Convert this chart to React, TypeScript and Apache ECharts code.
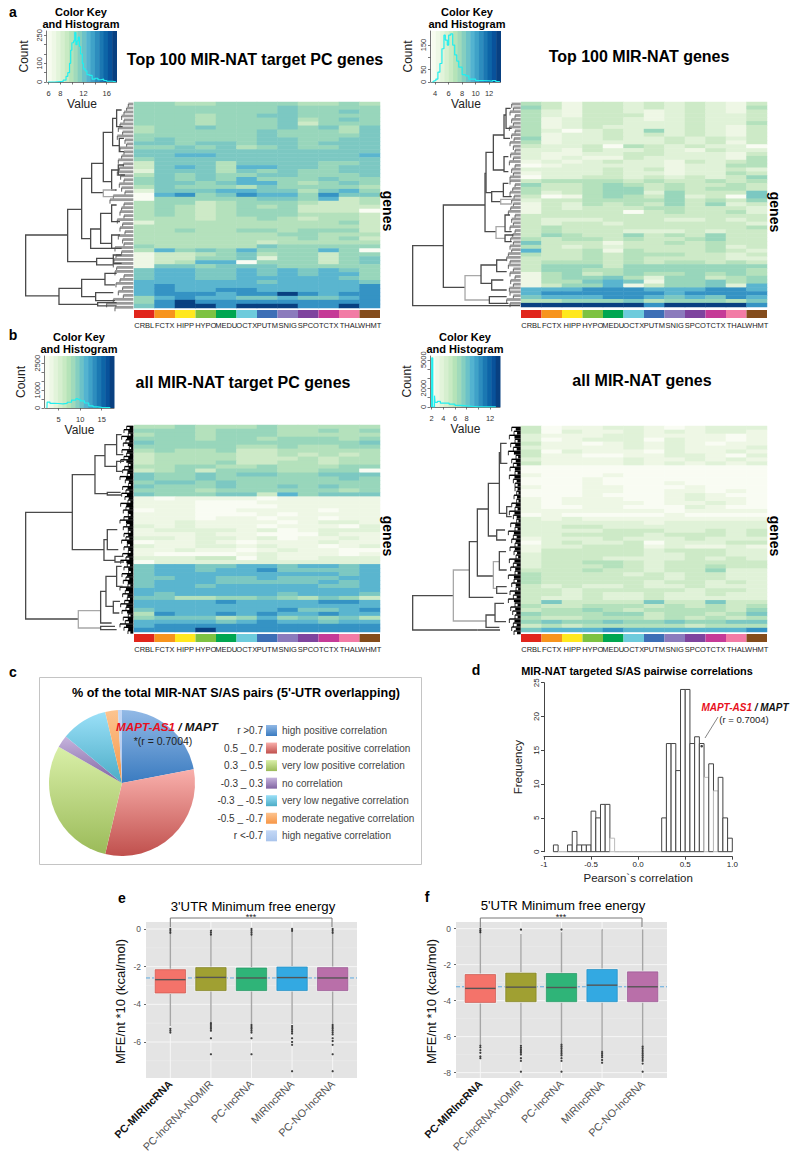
import React, { useEffect, useRef } from "react";
import * as echarts from "echarts";

const FONT = "Liberation Sans";
const tissues = ["CRBL","FCTX","HIPP","HYPO","MEDU","OCTX","PUTM","SNIG","SPCO","TCTX","THAL","WHMT"];
const tissueColors = ["#e1261c","#f7941d","#ffe81f","#7dc242","#00a651","#6dcbdc","#3d6fb6","#8b7bbd","#7e449e","#c53a97","#f27ba5","#844c1c"];
const heatColors = ["#f9fcf3","#eef7e5","#e0f2d8","#cdeac7","#b4e1bc","#98d6bb","#7cc8c2","#5ab5cf","#3593c4","#084081"];
const keyColors = ["#f7fcf0","#eef8e6","#e2f4da","#d6efcf","#c8eac3","#b5e3b8","#a0dabb","#85cfc0","#6cc2c8","#53b3d0","#3fa2c8","#2d8dbe","#1b78b2","#0d65a7","#08529b","#084081"];

const heatA = ["554455554454","555555565555","555555565565","555455665555","555455564565","555455563555","455655565646","455555655546","555555655556","565555665566","665665665666","556564565566","666666666666","667766666667","566666666666","366646666556","367647766566","266646565566","465655665556","565657555655","566567754565","465554655554","266677664675","078568775866","055555665734","455345554334","454345453333","454345553330","454345554443","444344543443","244444444453","444444444443","445445545553","444444455444","444444445453","444444344444","544444655555","475657555750","133456455355","133556255356","134770555356","166566655555","677667676765","677667676775","677667777765","777777677776","787777777778","787788777778","788878898788","578776676678","589888888888","689989998898"];
const heatB = ["431332323213","531332323214","421332123213","421333123223","412332123223","412332223224","412322223213","420232523213","412232323213","512232232323","412222232313","322304323220","221322321322","211223322213","212113222214","121232213234","012222212244","222232312232","122232212243","022332323235","344443433434","533454343343","433455343443","423455253336","301454352306","233444453435","132434353523","132333443332","133330343342","333333333333","322233322323","323323333332","343333333334","343332223233","354335343533","434434334533","633313343433","432323333423","733414333432","433434443323","333434333322","344434344343","355535555555","355445555554","145345445454","145564255345","144676155645","135571355627","777888777887","788888878888","677788767687","445556455546","999999899998"];
const heatC = ["445444544444","555455544545","455455544444","555455455545","655555555556","555554454455","454453344444","344443343434","344443334344","344453344344","445544544455","345355544550","655656655666","655655555565","566565555555","655565565655","555455555545","655566375666","101111011111","111000111111","111000011111","011001111011","111000101111","111011011011","112111101221","212111011102","122221201222","111211000211","221221201121","011210111211","211221211012","112110121100","100001211101","222330211222","022222222222","677667767767","677677866667","677777777767","667766766677","677766666767","677677777667","777777777777","767777767776","664455654653","777787777887","777777777777","677777786678","487787877877","566645756564","777767877677","788888888888","888988888888"];
const heatD = ["301122101222","302112121221","211122111101","201222021101","311012121011","211112121112","302111021121","311001122102","211112112121","311112121212","000000000000","000000000000","100010000000","000100000000","000100010000","100110001000","000110011010","000100012100","101110012110","101111011210","100110002100","111111101111","010000010000","212111111111","222222122222","223322222222","222233322323","223333233323","122232223222","023223022233","122333121121","133333233322","233333223322","233322223232","233443233333","233343233433","333433233522","433332323322","433333323322","433333233232","323223223222","332333332332","332322322322","322322322222","363333633633","433444343434","344543444435","544455344346","433444343434","565565565566","343444443444","677787777778"];

const leafA1 = [385,380,372,365,372,360,355,368,352,375,380,360,372,365,355,370,358,352,362,372,358,365,375,340,330,372,365,360,372,352,368,360,375,355,368,372,345,365,348,342,340,350,345,372,360,348,368,355,370,340,320,345];
const leafA2 = [335,340,330,345,335,340,328,345,335,342,330,340,345,332,340,328,345,335,340,330,330,345,338,330,342,335,340,332,325,345,335,340,330,345,338,332,340,330,335,325,320,330,325,340,330,345,332,340,328,330,340,320,330];
const leafB1 = [380,372,385,365,378,370,388,366,380,372,362,385,374,368,382,360,376,386,368,378,365,375,384,362,378,370,385,372,360,380,370,385,372,378,365,382,372,385,368,378,362,382,372,386,366,378,370,384,360,376,368,382,374,362,378,366,385,370,376,360,372,384];
const leafB2 = [335,342,328,345,332,340,325,348,335,340,330,345,328,340,345,345,350,342,350,335,345,328,340,350,332,345,325,340,335,345,330,342,348,328,340,332,345,325,342,335,348,330,340,325,345,332,338,345,328,340,335,342];

// dendrogram merges: [mergeX, topY, bottomY, topChildX, bottomChildX, light]
const dendroA1 = [[77,705,888,203,177,0],[203,628,785,245,290,0],[245,535,716,275,272,0],[275,490,578,310,310,0],[310,397,545,338,335,0],[338,355,437,350,358,0],[350,330,380,365,368,0],[358,415,455,372,372,0],[335,510,570,355,350,0],[355,495,525,372,375,0],[272,687,745,302,345,0],[302,640,730,335,335,0],[335,615,665,350,360,0],[335,705,745,360,365,0],[290,775,795,340,340,0],[340,765,790,365,365,0],[177,865,913,245,293,0],[245,838,890,315,287,0],[315,820,855,350,345,0],[287,878,902,340,345,0],[293,908,918,350,350,0],[310,570,590,345,340,1]];
const dendroA2 = [[38,737,917,130,360,0],[130,615,862,255,195,0],[255,520,695,258,288,0],[258,457,578,280,275,0],[280,405,510,312,312,0],[312,345,415,318,330,0],[318,325,385,332,335,0],[312,470,515,325,325,0],[275,575,605,310,302,0],[310,550,590,325,335,0],[302,598,612,335,335,1],[288,680,715,315,315,1],[315,645,695,330,335,0],[315,705,725,340,335,0],[195,827,900,243,268,1],[243,795,850,290,275,0],[290,780,815,320,320,0],[275,840,870,310,320,0],[268,890,910,320,325,0]];
const dendroB1 = [[77,548,868,217,235,0],[217,435,660,285,312,0],[285,378,492,315,322,0],[315,345,410,350,350,0],[350,315,375,365,370,0],[350,395,425,372,368,0],[322,488,496,362,365,0],[312,630,692,322,345,0],[322,600,660,352,355,0],[345,680,697,370,372,0],[235,843,895,302,302,1],[302,785,880,318,335,0],[318,740,830,350,340,0],[350,710,770,365,368,0],[340,815,850,360,358,0],[302,890,900,345,350,0]];
const dendroB2 = [[38,797,900,160,232,0],[160,720,873,208,258,1],[208,635,802,232,280,0],[232,537,738,265,280,0],[265,460,618,298,290,0],[298,368,550,302,320,0],[302,340,400,320,322,0],[320,530,560,335,335,0],[290,600,630,315,318,0],[280,695,775,298,290,1],[298,665,720,318,320,0],[290,770,790,320,322,0],[258,855,892,285,298,0],[285,820,875,312,318,0],[232,900,900,300,300,0]];

// colour-key histograms: [value, count]
const histA1 = [[5.9,0],[7,2],[8,3],[8.5,10],[9,30],[9.3,50],[9.6,100],[9.8,170],[10,210],[10.3,220],[10.5,265],[10.7,200],[10.9,220],[11.1,240],[11.3,190],[11.5,150],[11.8,100],[12,70],[12.3,60],[12.6,40],[13,35],[13.5,15],[14,20],[14.5,12],[15,15],[15.5,8],[16,4],[17,1],[17.6,0]];
const histA2 = [[3.5,0],[3.8,5],[4.1,12],[4.4,40],[4.7,75],[5,135],[5.3,190],[5.5,170],[5.8,150],[6,190],[6.3,195],[6.6,150],[6.9,110],[7.2,85],[7.5,60],[8,30],[8.5,25],[9,12],[10,6],[11,5],[12,3],[12.5,6],[13,2],[13.6,0]];
const histB1 = [[2.3,0],[2.35,330],[3,260],[4,250],[5,230],[6,260],[7,320],[8,440],[9,520],[9.5,480],[10,400],[11,280],[12,120],[13,60],[14,40],[15,20],[17,10]];
const histB2 = [[2,0],[2.02,5200],[2.2,0],[2.5,1200],[2.6,500],[3,600],[3.5,400],[4,420],[5,300],[6,170],[7,120],[8,60],[9,20],[10,10],[13,0]];

// pie (percent of pairs)
const pieNames = ["high positive correlation","moderate positive correlation","very low positive correlation","no correlation","very low negative correlation","moderate negative correlation","high negative correlation"];
const pieValues = [22,31.7,29.6,2.7,10.3,2.8,0.9];
const pieRanges = ["r >0.7","0.5 _ 0.7","0.3 _ 0.5","-0.3 _ 0.3","-0.3 _ -0.5","-0.5 _ -0.7","r <-0.7"];
const pieTop = ["#92b9e6","#f9b0ac","#d9efa8","#c6b4dd","#9be0f8","#fcc490","#c4d8f6"];
const pieBottom = ["#3a7bc0","#c0504d","#9bbb59","#8064a2","#4bacc6","#f79646","#a9c4ec"];

// correlation histogram: bin start, frequency (width 0.05)
const corrStarts = [-0.9,-0.85,-0.8,-0.75,-0.7,-0.65,-0.6,-0.55,-0.5,-0.45,-0.4,-0.35,-0.3,-0.25,-0.2,-0.15,-0.1,-0.05,0,0.05,0.1,0.15,0.2,0.25,0.3,0.35,0.4,0.45,0.5,0.55,0.6,0.65,0.7,0.75,0.8,0.85,0.9,0.95];
const corrCounts = [1,0,0,1,3,1,1,1,6,5,7,7,2,0,0,0,0,0,0,0,0,0,0,5,16,16,12,24,24,16,17,16,11,13,9,11,5,2];
const corrFaint = [-0.3,0.7,0.8];

// box plots
const boxNames = ["PC-MIRlncRNA","PC-lncRNA-NOMIR","PC-lncRNA","MIRlncRNA","PC-NO-lncRNA"];
const boxColors = ["#f4736a","#a0a032","#2fb478","#33a9e2","#b96fa9"];
const boxEdges = ["#c9544c","#7f7f20","#1f9460","#1f8cc2","#975390"];
const q1E = [-3.4,-3.27,-3.27,-3.27,-3.27], medE = [-2.69,-2.57,-2.6,-2.58,-2.6], q3E = [-2.16,-2.05,-2.07,-2.02,-2.05], loE = [-5.15,-5,-5.05,-5.05,-5.05], hiE = [-0.2,-0.3,-0.3,-0.1,-0.2];
const outE = [[1,0],[1,-0.1],[1,-0.2],[1,-5.3],[1,-5.4],[1,-5.5],[2,-0.1],[2,-0.2],[2,-0.3],[2,-5],[2,-5.1],[2,-5.2],[2,-5.3],[2,-5.4],[2,-5.8],[2,-6.65],[3,0],[3,-0.1],[3,-0.2],[3,-0.3],[3,-5.1],[3,-5.2],[3,-5.3],[3,-5.4],[3,-5.5],[3,-5.8],[3,-6.65],[4,0],[4,-0.1],[4,-5.15],[4,-5.25],[4,-5.35],[4,-5.45],[4,-5.55],[4,-5.8],[4,-6],[4,-6.15],[4,-7.55],[5,0],[5,-0.1],[5,-0.2],[5,-5.1],[5,-5.2],[5,-5.3],[5,-5.4],[5,-5.5],[5,-5.6],[5,-5.8],[5,-5.95],[5,-6.15],[5,-6.65],[5,-7.55]];
const q1F = [-4.1,-4.06,-4.06,-4.06,-4.06], medF = [-3.32,-3.25,-3.27,-3.14,-3.23], q3F = [-2.55,-2.47,-2.49,-2.27,-2.4], loF = [-6.45,-6.4,-6.4,-6.8,-6.5], hiF = [-0.1,-0.3,-0.2,-0.05,-0.05];
const outF = [[1,0],[1,-0.1],[1,-0.2],[1,-6.5],[1,-6.6],[1,-6.75],[1,-6.9],[1,-7.1],[1,-7.2],[2,-0.05],[2,-6.5],[2,-6.6],[2,-6.7],[2,-6.8],[2,-6.9],[2,-7],[2,-7.2],[2,-7.35],[2,-7.95],[3,-0.05],[3,-6.45],[3,-6.55],[3,-6.65],[3,-6.75],[3,-6.85],[3,-6.95],[3,-7.05],[3,-7.2],[3,-7.35],[3,-7.95],[4,-6.85],[4,-6.95],[4,-7.05],[4,-7.15],[4,-7.3],[4,-7.45],[5,-6.55],[5,-6.65],[5,-6.75],[5,-6.85],[5,-6.95],[5,-7.05],[5,-7.15],[5,-7.25],[5,-7.35],[5,-7.5],[5,-7.95]];

function buildOption() {
  const grid: any[] = [], xAxis: any[] = [], yAxis: any[] = [], series: any[] = [], graphic: any[] = [];
  const addGrid = (rect: any, x: any, y: any) => {
    const i = grid.length;
    grid.push({ ...rect, containLabel: false });
    xAxis.push({ gridIndex: i, ...x });
    yAxis.push({ gridIndex: i, ...y });
    return i;
  };
  const T = (x: number, y: number, text: string, size: number, o: any = {}) => {
    const { rotation, rich, ...st } = o;
    graphic.push({ type: "text", x, y, z: 100, rotation: rotation || 0, silent: true, style: { text, fontFamily: FONT, fontSize: size, fill: "#000", textAlign: "center", textVerticalAlign: "middle", ...(rich ? { rich } : {}), ...st } });
  };
  const hidden = { show: false };

  const heat = (rows: string[], left: number, top: number, w: number, h: number) => {
    const i = addGrid({ left, top, width: w, height: h },
      { type: "category", data: tissues, show: false },
      { type: "category", data: rows.map((_, r) => r), inverse: true, show: false });
    const data: number[][] = [];
    rows.forEach((row, r) => row.split("").forEach((c, col) => data.push([col, r, +c])));
    series.push({ type: "heatmap", xAxisIndex: i, yAxisIndex: i, data, silent: true, progressive: 0, emphasis: { disabled: true } });
  };
  const strip = (left: number, top: number, w: number, h: number) => {
    const i = addGrid({ left, top, width: w, height: h },
      { type: "category", data: tissues, axisLine: hidden, axisTick: hidden,
        axisLabel: { interval: 0, hideOverlap: false, fontSize: 7.5, fontFamily: FONT, color: "#222", margin: 3 } },
      { type: "value", min: 0, max: 1, show: false });
    series.push({ type: "bar", xAxisIndex: i, yAxisIndex: i, barWidth: "100%", silent: true,
      data: tissues.map((_, k) => ({ value: 1, itemStyle: { color: tissueColors[k] } })) });
  };
  const dendro = (nodes: number[][], leaves: number[], dense: boolean, gLeft: number, gTop: number, gW: number, gH: number, xMax: number, yTop: number, yBot: number, leafTop: number, leafBot: number) => {
    const i = addGrid({ left: gLeft, top: gTop, width: gW, height: gH },
      { type: "value", min: 0, max: xMax, show: false },
      { type: "value", min: yTop, max: yBot, inverse: true, show: false });
    const step = (leafBot - leafTop) / (leaves.length - 1);
    series.push({ type: "custom", xAxisIndex: i, yAxisIndex: i, silent: true, data: leaves.map((v, k) => [v, leafTop + k * step, leaves[k + 1] === undefined ? v : leaves[k + 1]]), encode: { x: 0, y: 1 },
      renderItem: (_: any, api: any) => {
        const x = api.value(0), y = api.value(1), nx = api.value(2);
        const a = api.coord([x, y]), b = api.coord([xMax, y]), c = api.coord([Math.max(x, nx), y + step]);
        const mid = api.coord([x + (xMax - x) * 0.45, y + step / 2]), mb = api.coord([xMax, y + step / 2]);
        const kids: any[] = [
          { type: "line", shape: { x1: a[0], y1: a[1], x2: b[0], y2: b[1] }, style: { stroke: dense ? "#000" : "#9a9a9a", lineWidth: dense ? 1.4 : 2.8 } },
          { type: "line", shape: { x1: a[0], y1: a[1], x2: a[0], y2: c[1] }, style: { stroke: dense ? "#000" : "#555", lineWidth: dense ? 0.8 : 0.9 } },
        ];
        if (dense) kids.push({ type: "line", shape: { x1: mid[0], y1: mid[1], x2: mb[0], y2: mb[1] }, style: { stroke: "#000", lineWidth: 2.6 } });
        return { type: "group", children: kids };
      } });
    series.push({ type: "custom", xAxisIndex: i, yAxisIndex: i, silent: true, data: nodes, encode: { x: 0, y: 1 },
      renderItem: (_: any, api: any) => {
        const m = api.value(0), t = api.value(1), b = api.value(2), xt = api.value(3), xb = api.value(4), l = api.value(5);
        const pts = [[xt, t], [m, t], [m, b], [xb, b]].map((p) => api.coord(p));
        return { type: "polyline", shape: { points: pts }, style: { stroke: l ? "#a8a8a8" : "#4a4a4a", lineWidth: 1.3, fill: "none" } };
      } });
  };
  const key = (hist: number[][], left: number, top: number, w: number, h: number, xMin: number, xMax: number, yMax: number, xTicks: number[], xLabels: number[], yTicks: number[], yLabels: number[]) => {
    const lab = { fontFamily: FONT, fontSize: 7.5, color: "#333" };
    const line = { lineStyle: { color: "#555", width: 0.8 } };
    const i = addGrid({ left, top, width: w, height: h },
      { type: "value", min: xMin, max: xMax, offset: 3, name: "Value", nameLocation: "middle", nameGap: 12,
        nameTextStyle: { fontFamily: FONT, fontSize: 12, color: "#222" }, axisLine: line,
        splitLine: hidden, axisTick: { length: 2.5, customValues: xTicks, ...line }, axisLabel: { ...lab, margin: 4, customValues: xLabels, formatter: (v: number) => String(v) } },
      { type: "value", min: 0, max: yMax, name: "Count", nameLocation: "middle", nameGap: 17,
        nameTextStyle: { fontFamily: FONT, fontSize: 12, color: "#222" }, axisLine: line, offset: 1,
        splitLine: hidden, axisTick: { length: 2.5, customValues: yTicks, ...line }, axisLabel: { ...lab, margin: 3, rotate: 90, customValues: yLabels, formatter: (v: number) => String(v) } });
    series.push({ type: "custom", xAxisIndex: i, yAxisIndex: i, silent: true, encode: { x: 0 },
      data: keyColors.map((_, k) => [k]),
      renderItem: (_: any, api: any) => {
        const k = api.value(0), step = (xMax - xMin) / keyColors.length;
        const a = api.coord([xMin + k * step, yMax]), b = api.coord([xMin + (k + 1) * step, 0]);
        return { type: "rect", shape: { x: a[0], y: a[1], width: b[0] - a[0] + 0.5, height: b[1] - a[1] }, style: { fill: keyColors[k] } };
      } });
    series.push({ type: "line", xAxisIndex: i, yAxisIndex: i, data: hist, step: "end", showSymbol: false, silent: true, lineStyle: { color: "#22eeee", width: 1.2 } });
  };

  // ---- heatmaps -----
  heat(heatA, 134, 102, 246, 206); strip(134, 310, 246, 8);
  heat(heatB, 521, 102, 246, 205); strip(521, 310, 246, 8);
  heat(heatC, 134, 425, 246, 207); strip(134, 634, 246, 8);
  heat(heatD, 521, 426, 246, 206); strip(521, 634, 246, 8);

  dendro(dendroA1, leafA1, false, 0, 102, 133.3, 206.3, 400, 306, 925, 312, 922);
  dendro(dendroA2, leafA2, false, 400, 102, 120.7, 205, 362, 306, 921, 312, 910);
  dendro(dendroB1, leafB1, true, 0, 425, 133.3, 207, 400, 286, 907, 290, 903);
  dendro(dendroB2, leafB2, true, 400, 426, 120.7, 206, 362, 288, 906, 292, 903);

  key(histA1, 47.5, 31, 69, 51, 5.8, 17.7, 273, [6,8,10,12,14,16], [6,8,12,16], [0,50,100,150,200,250], [0,100,250]);
  key(histA2, 431.5, 31, 69, 51, 3.45, 13.7, 207, [4,6,8,10,12], [4,6,8,10,12], [0,50,100,150], [0,50,150]);
  key(histB1, 45, 356, 69, 52, 1.85, 17.85, 2900, [5,10,15], [5,10,15], [0,500,1000,1500,2000,2500], [0,1000,2500]);
  key(histB2, 431, 356, 69, 51, 1.9, 13.7, 5400, [2,4,6,8,10,12], [2,4,6,8,12], [0,1000,2000,3000,4000,5000], [0,2000,5000]);

  [[81,18],[467,17.5],[79,343],[465,343]].forEach(([x, y]) => T(x, y, "Color Key\nand Histogram", 11, { fontWeight: "bold", lineHeight: 12 }));
  T(255, 59, "Top 100 MIR-NAT target PC genes", 16, { fontWeight: "bold" });
  T(639, 56, "Top 100 MIR-NAT genes", 16, { fontWeight: "bold" });
  T(243, 382, "all MIR-NAT target PC genes", 16, { fontWeight: "bold" });
  T(642, 380, "all MIR-NAT genes", 16, { fontWeight: "bold" });
  [[388,211],[775,212],[388,536],[775,536]].forEach(([x, y]) => T(x, y, "genes", 14, { rotation: -Math.PI / 2, fontWeight: "bold" }));

  [["a",13,12],["b",13,335],["c",13,672],["d",476,670],["e",122,898],["f",427,897]].forEach(([t, x, y]) => T(x as number, y as number, t as string, 14, { fontWeight: "bold" }));

  // ---- pie -----
  graphic.push({ type: "rect", silent: true, z: -1, shape: { x: 39.5, y: 677.5, width: 382, height: 187 }, style: { fill: "#fff", stroke: "#c4c4c4", lineWidth: 1 } });
  series.push({ type: "pie", center: [122, 783], radius: [0, 73], startAngle: 90, clockwise: true, silent: true, label: hidden, labelLine: hidden, emphasis: { disabled: true },
    data: pieNames.map((name, k) => ({ name, value: pieValues[k], itemStyle: { color: new echarts.graphic.LinearGradient(0, 0, 0, 1, [{ offset: 0, color: pieTop[k] }, { offset: 1, color: pieBottom[k] }]) } })) });
  T(236, 693, "% of the total MIR-NAT S/AS pairs (5'-UTR overlapping)", 12.6, { fontWeight: "bold" });
  pieRanges.forEach((r, k) => T(263, 730.5 + k * 17.55, r, 10, { textAlign: "right", fill: "#333" }));
  T(167, 726, "{r|MAPT-AS1}{k| / MAPT}", 11.7, { rich: { r: { fill: "#e8101c", fontWeight: "bold", fontStyle: "italic", fontSize: 11.7, fontFamily: FONT }, k: { fill: "#111", fontWeight: "bold", fontStyle: "italic", fontSize: 11.7, fontFamily: FONT } } });
  T(163, 741, "*(r = 0.7004)", 10.5, { fill: "#222" });

  // ---- correlation histogram -----
  const d = addGrid({ left: 544, top: 682.7, width: 188.3, height: 169 },
    { type: "value", min: -1, max: 1, interval: 0.5, offset: 5, name: "Pearson`s correlation", nameLocation: "middle", nameGap: 15,
      nameTextStyle: { fontFamily: FONT, fontSize: 11.5, color: "#222" }, splitLine: hidden, axisLine: { onZero: false, lineStyle: { color: "#444" } }, axisTick: { length: 3, lineStyle: { color: "#444" } },
      axisLabel: { fontFamily: FONT, fontSize: 8, color: "#222", margin: 4, showMinLabel: true, showMaxLabel: true, formatter: (v: number) => (v === -1 ? "-1" : v.toFixed(1)) } },
    { type: "value", min: 0, max: 25, interval: 5, name: "Frequency", nameLocation: "middle", nameGap: 20,
      nameTextStyle: { fontFamily: FONT, fontSize: 11.5, color: "#222" }, splitLine: hidden, axisLine: { show: true, onZero: false, lineStyle: { color: "#444" } }, axisTick: { show: true, length: 3, lineStyle: { color: "#444" } },
      axisLabel: { fontFamily: FONT, fontSize: 8, color: "#222", margin: 4, rotate: 90 } });
  series.push({ type: "custom", xAxisIndex: d, yAxisIndex: d, silent: true, encode: { x: 0, y: 1 },
    data: corrStarts.map((s, k) => [s, corrCounts[k]]),
    renderItem: (_: any, api: any) => {
      const s = api.value(0), c = api.value(1);
      const a = api.coord([s, c]), b = api.coord([s + 0.05, 0]);
      const faint = corrFaint.includes(s) || c === 0;
      return { type: "rect", shape: { x: a[0], y: a[1], width: b[0] - a[0], height: b[1] - a[1] }, style: { fill: "#fff", stroke: faint ? "#bbb" : "#444", lineWidth: 1 } };
    } });
  series.push({ type: "scatter", xAxisIndex: d, yAxisIndex: d, silent: true, symbolSize: 2.6, itemStyle: { color: "#111" }, data: [[0.675, 15.6]] });
  graphic.push({ type: "line", silent: true, z: 100, shape: { x1: 705, y1: 738, x2: 718, y2: 717 }, style: { stroke: "#666", lineWidth: 0.8 } });
  T(637, 671, "MIR-NAT targeted S/AS pairwise correlations", 10.9, { fontWeight: "bold" });
  T(745, 707, "{r|MAPT-AS1}{k| / MAPT}", 10, { rich: { r: { fill: "#e8101c", fontWeight: "bold", fontStyle: "italic", fontSize: 10, fontFamily: FONT }, k: { fill: "#111", fontWeight: "bold", fontStyle: "italic", fontSize: 10, fontFamily: FONT } } });
  T(744, 719, "(r = 0.7004)", 9.5, { fill: "#222" });

  // ---- box plots -----
  const boxPanel = (left: number, top: number, w: number, h: number, yMin: number, yMax: number, yTicks: number[], q1: number[], med: number[], q3: number[], lo: number[], hi: number[], outs: number[][], dash: number, nameX: number, minorVals: number[]) => {
    const i = addGrid({ left, top, width: w, height: h, show: true, backgroundColor: "#e4e4e4", borderWidth: 0 },
      { type: "value", min: 0.4, max: 5.6, axisLine: hidden, splitLine: hidden, axisTick: { length: 2, customValues: [1,2,3,4,5], lineStyle: { color: "#666" } },
        axisLabel: { customValues: [1,2,3,4,5], rotate: 45, fontFamily: FONT, fontSize: 10.7, color: "#555", margin: 4, hideOverlap: false,
          formatter: (v: number) => (v === 1 ? `{b|${boxNames[0]}}` : boxNames[v - 1]), rich: { b: { fontWeight: "bold", color: "#111", fontSize: 10.7, fontFamily: FONT } } } },
      { type: "value", min: yMin, max: yMax, axisLine: hidden, splitLine: hidden, axisTick: { show: true, length: 2, customValues: yTicks, lineStyle: { color: "#666" } },
        axisLabel: { customValues: yTicks, fontFamily: FONT, fontSize: 8.5, color: "#555", margin: 5 } });
    const hGrid = [...yTicks.map((v) => [v, 1]), ...minorVals.map((v) => [v, 0])];
    series.push({ type: "custom", xAxisIndex: i, yAxisIndex: i, silent: true, encode: { y: 0 }, data: hGrid, z: 1,
      renderItem: (_: any, api: any) => {
        const a = api.coord([0.4, api.value(0)]), b = api.coord([5.6, api.value(0)]);
        return { type: "line", shape: { x1: a[0], y1: a[1], x2: b[0], y2: b[1] }, style: { stroke: api.value(1) ? "#f6f6f6" : "#eeeeee", lineWidth: api.value(1) ? 1 : 0.5 } };
      } });
    series.push({ type: "line", xAxisIndex: i, yAxisIndex: i, silent: true, showSymbol: false, z: 1, data: [[0.4, dash], [5.6, dash]], lineStyle: { type: "dashed", color: "#5aa9e0", width: 1 } });
    series.push({ type: "custom", xAxisIndex: i, yAxisIndex: i, silent: true, encode: { x: 0, y: 3 }, z: 2,
      data: boxNames.map((_, k) => [k + 1, lo[k], q1[k], med[k], q3[k], hi[k], k]),
      renderItem: (_: any, api: any) => {
        const c = api.value(0), k = api.value(6);
        const P = (x: number, y: number) => api.coord([x, y]);
        const gt = P(c, yMax), gb = P(c, yMin), wt = P(c, api.value(5)), wb = P(c, api.value(1));
        const tl = P(c - 0.375, api.value(4)), br = P(c + 0.375, api.value(2));
        const ml = P(c - 0.375, api.value(3)), mr = P(c + 0.375, api.value(3));
        return { type: "group", children: [
          { type: "line", shape: { x1: gt[0], y1: gt[1], x2: gb[0], y2: gb[1] }, style: { stroke: "#f6f6f6", lineWidth: 1 } },
          { type: "line", shape: { x1: wt[0], y1: wt[1], x2: wb[0], y2: wb[1] }, style: { stroke: "#a6a6a6", lineWidth: 1.4 } },
          { type: "rect", shape: { x: tl[0] - 1, y: tl[1] - 1, width: br[0] - tl[0] + 2, height: br[1] - tl[1] + 2 }, style: { fill: "#f4f4f4" } },
          { type: "rect", shape: { x: tl[0], y: tl[1], width: br[0] - tl[0], height: br[1] - tl[1] }, style: { fill: boxColors[k], stroke: boxEdges[k], lineWidth: 0.7 } },
          { type: "line", shape: { x1: ml[0], y1: ml[1], x2: mr[0], y2: mr[1] }, style: { stroke: "#555", lineWidth: 1.4 } },
        ] };
      } });
    series.push({ type: "scatter", xAxisIndex: i, yAxisIndex: i, silent: true, symbolSize: 2.2, z: 3, itemStyle: { color: "#111" }, data: outs });
    graphic.push({ type: "polyline", silent: true, z: 100, shape: { points: [[left + 24.3, top + 5], [left + 24.3, top - 4], [left + 186, top - 4], [left + 186, top + 5]] }, style: { stroke: "#777", lineWidth: 1, fill: "none" } });
    T(left + 105, top - 5, "***", 9, { fill: "#222" });
    T(nameX, top + 79.5, "MFE/nt *10 (kcal/mol)", 13, { rotation: Math.PI / 2, fill: "#111" });
  };
  boxPanel(146, 922, 211, 156, -7.91, 0.37, [-6,-4,-2,0], q1E, medE, q3E, loE, hiE, outE, -2.6, 120, [-7,-5,-3,-1]);
  boxPanel(456, 922, 211, 156, -8.3, 0.37, [-8,-6,-4,-2,0], q1F, medF, q3F, loF, hiF, outF, -3.23, 431, [-7,-5,-3,-1]);
  T(253, 906, "3'UTR Minimum free energy", 13.2);
  T(563, 905, "5'UTR Minimum free energy", 13.2);

  return {
    animation: false,
    backgroundColor: "#fff",
    textStyle: { fontFamily: FONT },
    grid, xAxis, yAxis, series, graphic,
    visualMap: { show: false, type: "continuous", min: 0, max: 9, dimension: 2, seriesIndex: series.map((s, i) => (s.type === "heatmap" ? i : -1)).filter((i) => i >= 0), inRange: { color: heatColors } },
    legend: { show: true, orient: "vertical", left: 266, top: 725, itemWidth: 11, itemHeight: 11, itemGap: 6.55, icon: "rect", selectedMode: false, data: pieNames, textStyle: { fontFamily: FONT, fontSize: 10, color: "#444", padding: [0, 0, 0, 0] }, padding: 0 },
  };
}

export default function App() {
  const ref = useRef<HTMLDivElement>(null);
  useEffect(() => {
    document.body.style.margin = "0";
    const chart = echarts.init(ref.current!, undefined, { renderer: "svg" });
    chart.setOption(buildOption() as any);
    return () => chart.dispose();
  }, []);
  return <div ref={ref} style={{ width: 800, height: 1161 }} />;
}
